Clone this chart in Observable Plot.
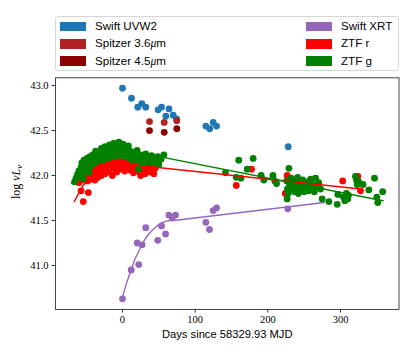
<!DOCTYPE html>
<html>
<head>
<meta charset="utf-8">
<script src="https://cdn.jsdelivr.net/npm/d3@7"></script>
<script src="https://cdn.jsdelivr.net/npm/@observablehq/plot@0.6"></script>
<style>
  html, body { margin: 0; padding: 0; background: #fff; }
  #wrap { position: relative; width: 415px; height: 356px; overflow: hidden; }
  #legend { position: relative; width: 415px; height: 72px; font-family: "Liberation Sans", sans-serif; font-size: 11.6px; color: #000; }
  #legend .box { position: absolute; left: 55px; top: 16px; width: 344px; height: 55px; border: 1px solid #d6d6d6; border-radius: 3px; box-sizing: border-box; }
  #legend .sw { position: absolute; width: 26px; height: 9.5px; }
  #legend .lb { position: absolute; line-height: 14px; white-space: nowrap; }
  #chart svg { display: block; }
</style>
</head>
<body>
<div id="wrap">
  <div id="legend"><div class="box"></div></div>
  <div id="chart"></div>
</div>
<script>
// ---- data ----
const uvw2Day = [0, 12.4, 21, 26.6, 32, 49, 53.7, 64, 59.6, 69.7, 74.3, 114.7, 120, 124.8, 129.4, 228];
const uvw2Lum = [42.97, 42.86, 42.76, 42.80, 42.76, 42.73, 42.76, 42.74, 42.66, 42.67, 42.63, 42.55, 42.52, 42.59, 42.55, 42.32];

const irac1Day = [37.2, 57.4, 74.7];
const irac1Lum = [42.60, 42.59, 42.61];
const irac2Day = [37.2, 57.4, 74.7];
const irac2Lum = [42.50, 42.48, 42.52];

const xrtDay = [0, 12, 22.4, 20.2, 27, 32, 48.6, 53.7, 59.2, 63.8, 68.4, 73, 114.7, 119.7, 124.8, 129.4, 227.5];
const xrtLum = [40.63, 40.95, 41.01, 41.25, 41.23, 41.42, 41.28, 41.44, 41.35, 41.56, 41.53, 41.56, 41.48, 41.40, 41.61, 41.64, 41.63];
const xrtFitDay = [0, 5, 11, 17, 24.8, 30, 36.2, 42, 47.7, 53, 59.2, 65, 70.6, 278];
const xrtFitLum = [40.648, 40.79, 40.93, 41.07, 41.20, 41.28, 41.35, 41.40, 41.44, 41.47, 41.49, 41.50, 41.50, 41.70];

const rDay = [-57, -54, -47,
  -60, -58, -55, -53, -51, -50, -48, -46, -45, -43, -42, -40, -38, -37, -35, -34, -32, -30, -29, -27, -26, -24, -22, -21, -19, -17, -16, -14, -13, -11, -10, -8, -7, -5, -4, -2, 0, 1, 3, 4, 6, 7, 9, 10, 12, 14, 15, 17, 19, 21, 23, 25, 26, 28, 30, 31, 33, 35, 37, 39, 40, 42, 43, 45,
  156.5, 177.5, 224, 226.6, 230, 233, 303, 323.8, 327.5];
const rLum = [41.83, 41.71, 41.81,
  41.92, 41.97, 41.95, 42.00, 41.97, 42.03, 41.94, 42.00, 42.06, 41.96, 42.04, 42.08, 41.95, 42.02, 42.10, 41.98, 42.06, 42.12, 42.00, 42.08, 42.14, 42.02, 42.10, 42.16, 42.04, 42.12, 42.18, 42.00, 42.08, 42.15, 42.19, 42.04, 42.12, 42.17, 42.07, 42.14, 42.10, 42.18, 42.05, 42.13, 42.16, 42.08, 42.12, 42.06, 42.15, 42.10, 42.03, 42.12, 42.08, 42.15, 42.04, 42.00, 42.10, 42.07, 42.13, 42.02, 42.08, 42.11, 42.04, 42.09, 42.11, 42.06, 42.02, 42.08,
  41.89, 42.07, 41.80, 42.00, 41.95, 41.90, 41.94, 41.99, 41.83];
const rFitDay = [-66.5, -55, -40, -25, -10, 0, 327.5];
const rFitLum = [41.71, 41.88, 42.02, 42.10, 42.13, 42.13, 41.85];

const gDay = [-66, -64, -62, -60, -59, -57, -56, -55, -54, -53, -52, -50, -49, -48, -47, -46, -45, -44, -43, -41, -40, -39, -37, -36, -35, -33, -32, -30, -29, -27, -26, -24, -23, -21, -20, -18, -17, -15, -14, -12, -11, -9, -8, -6, -5, -3, -2, 0, 1, 2, 4, 5, 7, 8, 10, 11, 13, 14, 16, 18, 20, 22, 23, 25, 27, 29, 32, 34, 36, 38, 40, 42, 43, 45, 47, 48.6, 50, 53, 57,
  141.7, 156.5, 160, 163, 171.6, 179.8, 190.8, 194.5, 207, 209.6, 212, 226, 226.6, 227, 228, 229, 230, 232, 234, 235, 237, 238, 240, 241, 243, 244, 246, 248, 250, 251, 253, 255, 257, 259, 261, 263, 265.6, 268, 270, 272.5, 274.8, 284, 295.4, 296.3, 304, 306, 308, 310, 311, 320.6, 322, 323, 325, 331, 339, 346.8, 350, 351.3, 358,
  231, 236, 242, 247, 252, 256, 260, 264, 267];
const gLum = [41.93, 41.97, 42.01, 42.05, 41.99, 42.09, 42.14, 42.03, 41.96, 42.17, 42.08, 42.12, 42.19, 42.05, 42.15, 42.03, 42.21, 42.10, 42.17, 42.23, 42.13, 42.19, 42.27, 42.15, 42.22, 42.18, 42.26, 42.21, 42.30, 42.17, 42.25, 42.32, 42.21, 42.28, 42.19, 42.34, 42.24, 42.30, 42.21, 42.36, 42.27, 42.33, 42.22, 42.30, 42.37, 42.25, 42.32, 42.22, 42.35, 42.28, 42.30, 42.21, 42.26, 42.33, 42.19, 42.27, 42.23, 42.17, 42.25, 42.20, 42.28, 42.07, 42.16, 42.23, 42.14, 42.20, 42.24, 42.13, 42.19, 42.16, 42.22, 42.12, 42.20, 42.15, 42.17, 42.21, 42.12, 42.18, 42.23,
  42.03, 41.98, 42.17, 41.97, 42.07, 42.19, 42.00, 41.95, 42.00, 41.94, 41.91, 41.94, 41.74, 41.85, 41.80, 42.08, 41.90, 41.97, 41.86, 41.92, 41.82, 41.95, 41.89, 41.98, 41.84, 41.92, 41.87, 41.95, 41.82, 41.90, 41.88, 41.93, 41.85, 41.96, 41.90, 41.87, 41.97, 41.87, 41.92, 41.85, 41.74, 41.71, 41.68, 41.79, 41.76, 41.72, 41.80, 41.74, 41.78, 41.99, 41.95, 41.90, 41.93, 41.90, 41.84, 41.97, 41.76, 41.70, 41.82,
  41.84, 41.88, 41.80, 41.90, 41.85, 41.83, 41.88, 41.82, 41.89];
const gFitDay = [-70, -50, -30, -10, 0, 358.7];
const gFitLum = [41.91, 42.10, 42.22, 42.29, 42.29, 41.72];

const xTicks = [0, 100, 200, 300];
const yTicks = [41.0, 41.5, 42.0, 42.5, 43.0];
const xLabel = "Days since 58329.93 MJD";

const legendLabels = ["Swift UVW2", "Spitzer 3.6", "Spitzer 4.5", "Swift XRT", "ZTF r", "ZTF g"];
const legendColors = ["#1f77b4", "#b22222", "#8b0000", "#9467bd", "#ff0000", "#008000"];

// ---- legend ----
const leg = document.getElementById("legend");
legendLabels.forEach((lab, i) => {
  const col = i < 3 ? 0 : 1;
  const row = i % 3;
  const cy = 26.4 + row * 17.4;
  const sw = document.createElement("div");
  sw.className = "sw";
  sw.style.left = (col ? 306 : 60) + "px";
  sw.style.top = (cy - 4.75) + "px";
  sw.style.background = legendColors[i];
  leg.appendChild(sw);
  const lb = document.createElement("div");
  lb.className = "lb";
  lb.style.left = (col ? 341 : 95) + "px";
  lb.style.top = (cy - 7.5) + "px";
  if (lab.startsWith("Spitzer")) {
    lb.innerHTML = lab + '<span style="font-family:\'Liberation Serif\',serif;font-style:italic;">\u03bc</span>m';
  } else {
    lb.textContent = lab;
  }
  leg.appendChild(lb);
});

// ---- chart ----
const R = 3.4;
const chart = Plot.plot({
  width: 415,
  height: 284,
  marginLeft: 55,
  marginRight: 16.5,
  marginTop: 5.3,
  marginBottom: 47,
  x: { domain: [-92.2, 380.5] },
  y: { domain: [40.511, 43.086] },
  style: { background: "white", color: "black" },
  marks: [
    Plot.dot(uvw2Day, { x: uvw2Day, y: uvw2Lum, r: R, fill: legendColors[0] }),
    Plot.dot(irac1Day, { x: irac1Day, y: irac1Lum, r: R, fill: legendColors[1] }),
    Plot.dot(irac2Day, { x: irac2Day, y: irac2Lum, r: R, fill: legendColors[2] }),
    Plot.dot(xrtDay, { x: xrtDay, y: xrtLum, r: R, fill: legendColors[3] }),
    Plot.dot(rDay, { x: rDay, y: rLum, r: R, fill: legendColors[4] }),
    Plot.dot(gDay, { x: gDay, y: gLum, r: R, fill: legendColors[5] }),
    Plot.line(rFitDay, { x: rFitDay, y: rFitLum, stroke: legendColors[4], strokeWidth: 1.4 }),
    Plot.line(gFitDay, { x: gFitDay, y: gFitLum, stroke: legendColors[5], strokeWidth: 1.4 }),
    Plot.line(xrtFitDay, { x: xrtFitDay, y: xrtFitLum, stroke: legendColors[3], strokeWidth: 1.4 }),
    Plot.frame({ stroke: "#333", strokeWidth: 0.9 }),
    Plot.axisX({ ticks: xTicks, tickSize: 3.5, tickPadding: 3, tickFormat: d => String(d), label: null,
      fontFamily: "Liberation Serif, serif", fontSize: 10.5, stroke: "#333" }),
    Plot.axisY({ ticks: yTicks, tickSize: 3.5, tickPadding: 3.5, tickFormat: d3.format(".1f"), label: null,
      fontFamily: "Liberation Serif, serif", fontSize: 10.5, stroke: "#333" }),
    Plot.text([xLabel], { text: d => d, frameAnchor: "bottom", dy: 25, lineAnchor: "middle",
      fontFamily: "Liberation Sans, sans-serif", fontSize: 11.2, fill: "black" })
  ]
});
document.getElementById("chart").appendChild(chart);

// y-axis label with math styling
const svg = d3.select(chart);
const yl = svg.append("text")
  .attr("transform", "translate(19.5,110) rotate(-90)")
  .attr("text-anchor", "middle")
  .attr("font-family", "Liberation Serif, serif")
  .attr("font-size", 12)
  .attr("fill", "black");
yl.append("tspan").text("log ");
yl.append("tspan").attr("font-style", "italic").text("\u03bdL");
yl.append("tspan").attr("font-style", "italic").attr("font-size", 8.5).attr("dy", 2.5).text("\u03bd");
</script>
</body>
</html>
